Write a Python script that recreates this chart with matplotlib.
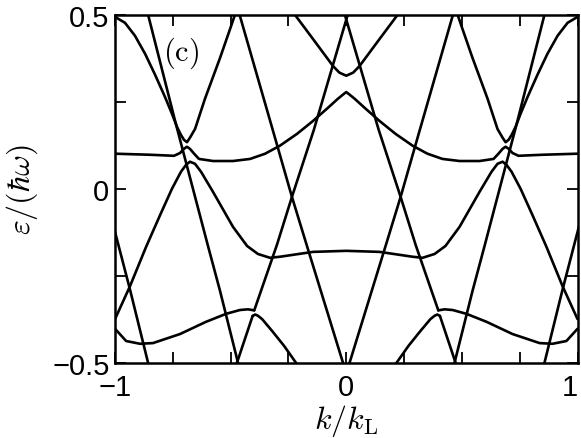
import matplotlib
matplotlib.use("Agg")
import matplotlib.pyplot as plt

plt.rcParams["font.family"] = ["Liberation Sans", "DejaVu Sans"]
plt.rcParams["mathtext.fontset"] = "cm"

# quasi-energy bands, k in units of k_L, eps in units of hbar*omega
# top-left band with V-shaped minimum near k=-0.69, and its mirror
c1_left_k = [-1.0, -0.957, -0.914, -0.870, -0.827, -0.784, -0.754, -0.732, -0.715, -0.702,
             -0.689, -0.676, -0.654, -0.611, -0.546, -0.498, -0.477]
c1_left_e = [0.494, 0.477, 0.440, 0.388, 0.328, 0.264, 0.216, 0.178, 0.155, 0.141,
             0.134, 0.147, 0.172, 0.259, 0.376, 0.468, 0.509]
c1_right_k = [1.0, 0.957, 0.914, 0.870, 0.827, 0.784, 0.754, 0.732, 0.715, 0.702,
              0.689, 0.676, 0.654, 0.611, 0.546, 0.498, 0.477]
c1_right_e = [0.494, 0.477, 0.440, 0.388, 0.328, 0.264, 0.216, 0.178, 0.155, 0.141,
              0.134, 0.147, 0.172, 0.259, 0.376, 0.468, 0.509]

# band near eps=0.1 with bump at the anticrossing, peak at k=0
c2_k = [-1.0, -0.849, -0.745, -0.719, -0.702, -0.689, -0.676, -0.658, -0.637, -0.576,
        -0.490, -0.416, -0.351, -0.287, -0.213, -0.144, -0.079, -0.036, -0.010, 0.0,
        0.010, 0.036, 0.079, 0.144, 0.213, 0.287, 0.351, 0.416, 0.490, 0.576,
        0.637, 0.658, 0.676, 0.689, 0.702, 0.719, 0.745, 0.849, 1.0]
c2_e = [0.101, 0.098, 0.095, 0.103, 0.115, 0.121, 0.115, 0.101, 0.086, 0.080,
        0.080, 0.086, 0.101, 0.124, 0.158, 0.195, 0.233, 0.259, 0.273, 0.278,
        0.273, 0.259, 0.233, 0.195, 0.158, 0.124, 0.101, 0.086, 0.080, 0.080,
        0.086, 0.101, 0.115, 0.121, 0.115, 0.103, 0.095, 0.098, 0.101]

# band peaking near k=+-0.68 and flat around eps=-0.18 in the middle
c3_k = [-1.0, -0.935, -0.866, -0.805, -0.754, -0.715, -0.693, -0.676, -0.654, -0.628,
        -0.576, -0.490, -0.429, -0.382, -0.330, -0.287, -0.144, 0.0,
        0.144, 0.287, 0.330, 0.382, 0.429, 0.490, 0.576, 0.628, 0.654, 0.676,
        0.693, 0.715, 0.754, 0.805, 0.866, 0.935, 1.0]
c3_e = [-0.374, -0.279, -0.167, -0.075, 0.0, 0.049, 0.069, 0.078, 0.072, 0.049,
        -0.009, -0.109, -0.164, -0.187, -0.198, -0.195, -0.181, -0.178,
        -0.181, -0.195, -0.198, -0.187, -0.164, -0.109, -0.009, 0.049, 0.072, 0.078,
        0.069, 0.049, 0.0, -0.075, -0.167, -0.279, -0.374]

# top band around k=0
t0_k = [-0.233, -0.222, -0.14, -0.0575, -0.03, 0.0, 0.03, 0.0575, 0.14, 0.222, 0.233]
t0_e = [0.51, 0.5, 0.427, 0.353, 0.334, 0.325, 0.334, 0.353, 0.427, 0.5, 0.51]

# lower band with shallow minimum near k=+-0.89
c4_left_k = [-1.0, -0.952, -0.892, -0.836, -0.719, -0.607, -0.520, -0.460, -0.425, -0.398]
c4_left_e = [-0.402, -0.437, -0.445, -0.443, -0.417, -0.382, -0.359, -0.348, -0.346, -0.349]
c4_right_k = [1.0, 0.952, 0.892, 0.836, 0.719, 0.607, 0.520, 0.460, 0.425, 0.398]
c4_right_e = [-0.402, -0.437, -0.445, -0.443, -0.417, -0.382, -0.359, -0.348, -0.346, -0.349]

# short branch below the small gap near k=+-0.4
c5_left_k = [-0.405, -0.394, -0.383, -0.364, -0.321, -0.269, -0.217, -0.210]
c5_left_e = [-0.365, -0.361, -0.364, -0.374, -0.408, -0.451, -0.5, -0.52]
c5_right_k = [0.405, 0.394, 0.383, 0.364, 0.321, 0.269, 0.217, 0.210]
c5_right_e = [-0.365, -0.361, -0.364, -0.374, -0.408, -0.451, -0.5, -0.52]

# nearly straight steep bands
l0_left_k = [-1.01, -1.0, -0.935, -0.857, -0.848]
l0_left_e = [-0.098, -0.124, -0.29, -0.5, -0.525]
l0_right_k = [1.01, 1.0, 0.935, 0.857, 0.848]
l0_right_e = [-0.098, -0.124, -0.29, -0.5, -0.525]

l1_left_k = [-0.867, -0.857, -0.741, -0.598, -0.546, -0.468, -0.458]
l1_left_e = [0.527, 0.5, 0.197, -0.164, -0.293, -0.5, -0.527]
l1_right_k = [0.867, 0.857, 0.741, 0.598, 0.546, 0.468, 0.458]
l1_right_e = [0.527, 0.5, 0.197, -0.164, -0.293, -0.5, -0.527]

l2_left_k = [-0.464, -0.460, -0.317, -0.235, -0.170, -0.014, -0.005]
l2_left_e = [0.51, 0.497, 0.167, -0.023, -0.164, -0.5, -0.52]
l2_right_k = [0.464, 0.460, 0.317, 0.235, 0.170, 0.014, 0.005]
l2_right_e = [0.51, 0.497, 0.167, -0.023, -0.164, -0.5, -0.52]

l3_low_left_k = [-0.480, -0.473, -0.405]
l3_low_left_e = [-0.52, -0.5, -0.365]
l3_low_right_k = [0.480, 0.473, 0.405]
l3_low_right_e = [-0.52, -0.5, -0.365]

l3_up_left_k = [-0.398, -0.300, -0.235, -0.140, 0.0035, 0.012]
l3_up_left_e = [-0.349, -0.161, -0.023, 0.170, 0.494, 0.515]
l3_up_right_k = [0.398, 0.300, 0.235, 0.140, -0.0035, -0.012]
l3_up_right_e = [-0.349, -0.161, -0.023, 0.170, 0.494, 0.515]

x_ticks = [-1, -0.75, -0.5, -0.25, 0, 0.25, 0.5, 0.75, 1]
x_ticklabels = ["\u22121", "", "", "", "0", "", "", "", "1"]
y_ticks = [-0.5, -0.25, 0, 0.25, 0.5]
y_ticklabels = ["\u22120.5", "", "0", "", "0.5"]

curves = [
    (c1_left_k, c1_left_e), (c1_right_k, c1_right_e),
    (c2_k, c2_e), (c3_k, c3_e), (t0_k, t0_e),
    (c4_left_k, c4_left_e), (c4_right_k, c4_right_e),
    (c5_left_k, c5_left_e), (c5_right_k, c5_right_e),
    (l0_left_k, l0_left_e), (l0_right_k, l0_right_e),
    (l1_left_k, l1_left_e), (l1_right_k, l1_right_e),
    (l2_left_k, l2_left_e), (l2_right_k, l2_right_e),
    (l3_low_left_k, l3_low_left_e), (l3_low_right_k, l3_low_right_e),
    (l3_up_left_k, l3_up_left_e), (l3_up_right_k, l3_up_right_e),
]

fig = plt.figure(figsize=(5.81, 4.39), dpi=100)
ax = fig.add_axes([0.198, 0.171, 0.796, 0.793])

for k, e in curves:
    ax.plot(k, e, color="k", lw=1.9, solid_joinstyle="round", solid_capstyle="round")

ax.set_xlim(-1, 1)
ax.set_ylim(-0.5, 0.5)
ax.set_xticks(x_ticks)
ax.set_xticklabels(x_ticklabels)
ax.set_yticks(y_ticks)
ax.set_yticklabels(y_ticklabels)
ax.tick_params(direction="in", length=8, width=1.3, top=True, right=True,
               labelsize=21)
ax.tick_params(axis="x", pad=7)
ax.tick_params(axis="y", pad=4)
for s in ax.spines.values():
    s.set_linewidth(1.8)
# keep the "1" at the right corner inside the canvas
ax.get_xticklabels()[-1].set_horizontalalignment("right")

ax.set_xlabel(r"$k/k_{\mathrm{L}}$", fontsize=23, labelpad=1)
ax.set_ylabel(r"$\varepsilon/(\hbar\omega)$", fontsize=23, labelpad=9)
ax.text(-0.715, 0.392, r"$\mathrm{(c)}$", fontsize=22, ha="center", va="center")

fig.savefig("out.png", dpi=100)
